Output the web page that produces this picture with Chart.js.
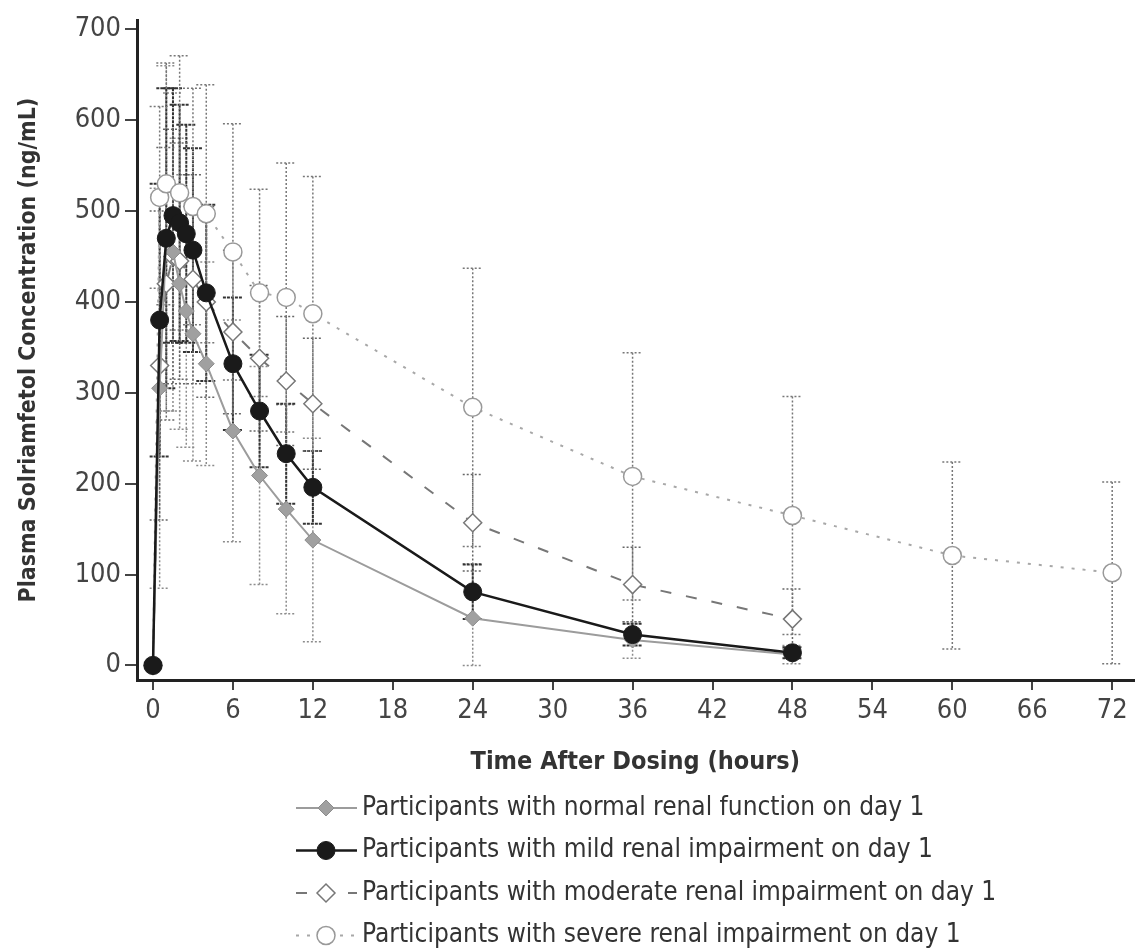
<!DOCTYPE html>
<html>
<head>
<meta charset="utf-8">
<script src="https://cdn.jsdelivr.net/npm/chart.js@4.4.1/dist/chart.umd.min.js"></script>
<style>
  html, body { margin: 0; padding: 0; background: #fff; }
  #wrap { width: 1144px; height: 948px; }
</style>
</head>
<body>
<div id="wrap"><canvas id="pkChart" width="1144" height="948"></canvas></div>
<script>
// values (ng/mL, mean and SD)
const normalTime = [0, 0.5, 1, 1.5, 2, 2.5, 3, 4, 6, 8, 10, 12, 24, 36, 48];
const normalMean = [0, 305, 470, 455, 420, 390, 365, 332, 258, 209, 172, 138, 52, 28, 12];
const normalSD   = [0, 220, 190, 175, 160, 150, 140, 112, 122, 120, 115, 112, 60, 20, 10];

const mildTime = [0, 0.5, 1, 1.5, 2, 2.5, 3, 4, 6, 8, 10, 12, 24, 36, 48];
const mildMean = [0, 380, 470, 495, 487, 475, 457, 410, 332, 280, 233, 196, 81, 34, 14];
const mildSD   = [0, 150, 165, 140, 130, 120, 112, 97, 73, 62, 55, 40, 30, 12, 6];

const moderateTime = [0, 0.5, 1, 1.5, 2, 3, 4, 6, 8, 10, 12, 24, 36, 48];
const moderateMean = [0, 330, 420, 450, 445, 425, 400, 367, 338, 313, 288, 157, 89, 51];
const moderateSD   = [0, 170, 150, 140, 130, 115, 105, 90, 80, 71, 72, 53, 41, 33];

const severeTime = [0, 0.5, 1, 2, 3, 4, 6, 8, 10, 12, 24, 36, 48, 60, 72];
const severeMean = [0, 515, 530, 520, 505, 497, 455, 410, 405, 387, 284, 208, 165, 121, 102];
const severeSD   = [0, 100, 133, 151, 130, 142, 141, 114, 148, 151, 153, 136, 131, 103, 100];

const xTicks = [0, 6, 12, 18, 24, 30, 36, 42, 48, 54, 60, 66, 72];
const yTicks = [0, 100, 200, 300, 400, 500, 600, 700];

const seriesLabels = [
    'Participants with normal renal function on day 1',
    'Participants with mild renal impairment on day 1',
    'Participants with moderate renal impairment on day 1',
    'Participants with severe renal impairment on day 1'
];

const FONT = "'Liberation Sans Narrow', 'DejaVu Sans Condensed', 'Liberation Sans', sans-serif";

function points(times, means) {
    return times.map((t, i) => ({ x: t, y: means[i] }));
}

// SD bars, drawn under the lines and markers
const errorBars = {
    id: 'errorBars',
    beforeDatasetsDraw(chart) {
        const { ctx, scales: { x, y } } = chart;
        chart.data.datasets.forEach((ds, di) => {
            ctx.save();
            ctx.strokeStyle = ds.errColor;
            ctx.lineWidth = ds.errWidth;
            ctx.setLineDash(ds.errDash);
            ds.data.forEach((p, i) => {
                const sd = ds.sd[i];
                if (!sd) return;
                const px = x.getPixelForValue(p.x);
                const top = y.getPixelForValue(p.y + sd);
                const bot = y.getPixelForValue(Math.max(p.y - sd, 0));
                ctx.beginPath();
                ctx.moveTo(px, top);
                ctx.lineTo(px, bot);
                ctx.moveTo(px - 10, top);
                ctx.lineTo(px + 10, top);
                ctx.moveTo(px - 10, bot);
                ctx.lineTo(px + 10, bot);
                ctx.stroke();
            });
            ctx.restore();
        });
    }
};

// legend under the x axis title
const legendBox = {
    id: 'legendBox',
    afterDraw(chart) {
        const ctx = chart.ctx;
        chart.data.datasets.forEach((ds, i) => {
            const y = 808 + i * 42.5;
            ctx.save();
            ctx.strokeStyle = ds.borderColor;
            ctx.lineWidth = ds.borderWidth;
            ctx.setLineDash(ds.borderDash || []);
            ctx.beginPath();
            ctx.moveTo(296, y);
            ctx.lineTo(357, y);
            ctx.stroke();
            ctx.setLineDash([]);
            ctx.fillStyle = ds.pointBackgroundColor;
            ctx.strokeStyle = ds.pointBorderColor;
            ctx.lineWidth = ds.pointBorderWidth;
            Chart.helpers.drawPoint(ctx, {
                pointStyle: ds.pointStyle, radius: ds.pointRadius, rotation: 0,
                borderWidth: ds.pointBorderWidth
            }, 326, y);
            ctx.fillStyle = '#333';
            ctx.font = '26px ' + FONT;
            ctx.textBaseline = 'middle';
            ctx.fillText(ds.label, 362, y);
            ctx.restore();
        });
    }
};

new Chart(document.getElementById('pkChart'), {
    type: 'line',
    data: {
        datasets: [
            {
                label: seriesLabels[0],
                data: points(normalTime, normalMean),
                sd: normalSD,
                borderColor: '#9c9c9c', borderWidth: 2,
                pointStyle: 'rectRot', pointRadius: 8,
                pointBackgroundColor: '#a0a0a0', pointBorderColor: '#8c8c8c', pointBorderWidth: 1,
                errColor: '#8c8c8c', errWidth: 1.5, errDash: [2, 2],
                order: 1
            },
            {
                label: seriesLabels[1],
                data: points(mildTime, mildMean),
                sd: mildSD,
                borderColor: '#1a1a1a', borderWidth: 2.5,
                pointStyle: 'circle', pointRadius: 9,
                pointBackgroundColor: '#1a1a1a', pointBorderColor: '#1a1a1a', pointBorderWidth: 1,
                errColor: '#333', errWidth: 2, errDash: [3, 1],
                order: 0
            },
            {
                label: seriesLabels[2],
                data: points(moderateTime, moderateMean),
                sd: moderateSD,
                borderColor: '#777', borderWidth: 2, borderDash: [11, 15],
                pointStyle: 'rectRot', pointRadius: 9,
                pointBackgroundColor: '#fff', pointBorderColor: '#777', pointBorderWidth: 1.5,
                errColor: '#666', errWidth: 1.5, errDash: [2, 2],
                order: 2
            },
            {
                label: seriesLabels[3],
                data: points(severeTime, severeMean),
                sd: severeSD,
                borderColor: '#a8a8a8', borderWidth: 2, borderDash: [3, 8],
                pointStyle: 'circle', pointRadius: 9,
                pointBackgroundColor: '#fff', pointBorderColor: '#999', pointBorderWidth: 1.5,
                errColor: '#777', errWidth: 1.5, errDash: [2, 2],
                order: 3
            }
        ]
    },
    options: {
        responsive: false,
        animation: false,
        layout: { padding: { top: 12, right: 0, left: 0, bottom: 0 } },
        plugins: {
            legend: { display: false },
            tooltip: { enabled: false }
        },
        scales: {
            x: {
                type: 'linear',
                min: -1.2, max: 73.6,
                afterBuildTicks: s => { s.ticks = xTicks.map(v => ({ value: v })); },
                afterFit: s => { s.height = 268; },
                grid: { drawOnChartArea: false, drawTicks: true, tickLength: 10, color: '#444', lineWidth: 2 },
                border: { display: true, color: '#222', width: 3 },
                ticks: { color: '#444', padding: 5, font: { family: FONT, size: 27 } },
                title: {
                    display: true, text: 'Time After Dosing (hours)', color: '#333',
                    font: { family: FONT, size: 25, weight: 'bold' },
                    padding: { top: 0, bottom: 171 }
                }
            },
            y: {
                min: -16, max: 710,
                afterBuildTicks: s => { s.ticks = yTicks.map(v => ({ value: v })); },
                afterFit: s => { s.width = 137; },
                grid: { drawOnChartArea: false, drawTicks: true, tickLength: 12, color: '#444', lineWidth: 2 },
                border: { display: true, color: '#222', width: 3 },
                ticks: { color: '#444', padding: 4, font: { family: FONT, size: 27 } },
                title: {
                    display: true, text: 'Plasma Solriamfetol Concentration (ng/mL)', color: '#333',
                    font: { family: FONT, size: 23, weight: 'bold' },
                    padding: { top: 15, bottom: 0 }
                }
            }
        }
    },
    plugins: [errorBars, legendBox]
});
</script>
</body>
</html>
